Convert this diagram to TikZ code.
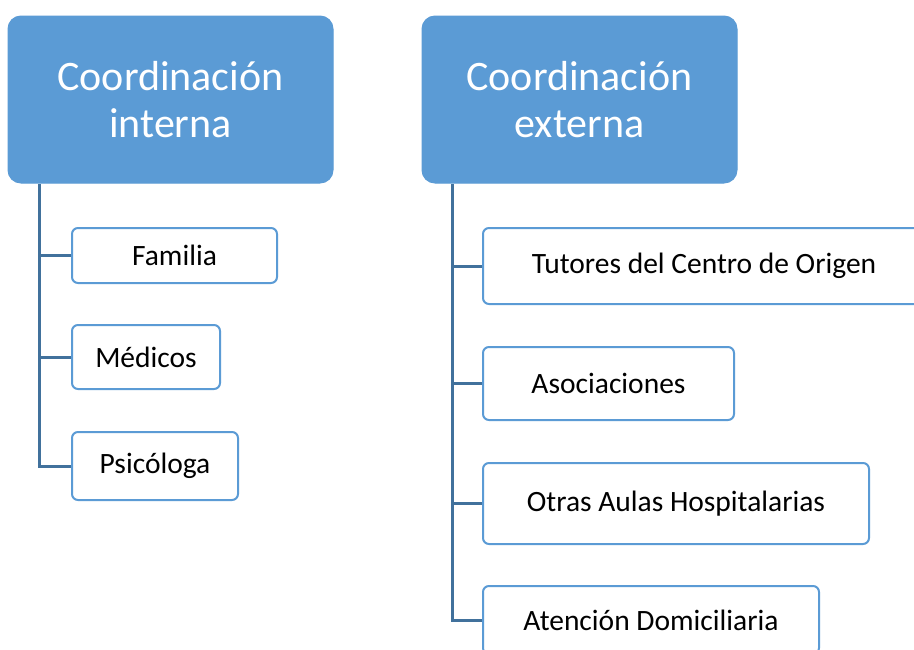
\documentclass[tikz,border=0pt]{standalone}
\usepackage{fontspec}
\setmainfont{Carlito}
\definecolor{headblue}{HTML}{5B9BD5}
\definecolor{lineblue}{HTML}{41719C}
\tikzset{
  head/.style={rectangle, rounded corners=13pt, fill=headblue, draw=headblue, line width=1pt,
    text=white, align=center, inner sep=0pt, font=\fontsize{42}{47}\selectfont},
  item/.style={rectangle, rounded corners=6pt, fill=white, draw=headblue, line width=2pt,
    text=black, align=center, inner sep=0pt, font=\fontsize{29.5}{34}\selectfont},
  conn/.style={draw=lineblue, line width=3pt}
}
\begin{document}
\begin{tikzpicture}[x=1pt,y=-1pt]
\clip (0,0) rectangle (914,649);
\fill[white] (0,0) rectangle (914,649);
% headings
\node[head, minimum width=325pt, minimum height=167pt] (h1) at (170.5,99.5) {Coordinación\\interna};
\node[head, minimum width=315pt, minimum height=167pt] (h2) at (579.5,99.5) {Coordinación\\externa};
% left items
\node[item, minimum width=205pt, minimum height=55pt] (fam) at (174.5,255.5) {Familia};
\node[item, minimum width=148pt, minimum height=64pt] (med) at (146,357) {Médicos};
\node[item, minimum width=166pt, minimum height=68pt] (psi) at (155,466) {Psicóloga};
% right items
\node[item, minimum width=442pt, minimum height=76pt] (tut) at (704,266) {Tutores del Centro de Origen};
\node[item, minimum width=251pt, minimum height=73pt] (aso) at (608.5,383.5) {Asociaciones};
\node[item, minimum width=386pt, minimum height=81pt] (otr) at (676,503.5) {Otras Aulas Hospitalarias};
\node[item, minimum width=336pt, minimum height=68pt] (ate) at (651,620) {Atención Domiciliaria};
% connectors left
\coordinate (t1) at (39,184);
\draw[conn] (t1) |- (psi.west);
\draw[conn] (t1 |- fam.west) -- (fam.west);
\draw[conn] (t1 |- med.west) -- (med.west);
% connectors right
\coordinate (t2) at (452,184);
\draw[conn] (t2) |- (ate.west);
\draw[conn] (t2 |- tut.west) -- (tut.west);
\draw[conn] (t2 |- aso.west) -- (aso.west);
\draw[conn] (t2 |- otr.west) -- (otr.west);
\end{tikzpicture}
\end{document}
